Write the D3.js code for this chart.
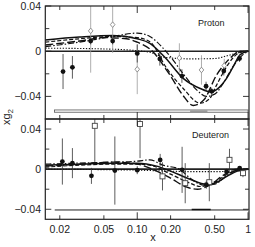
<!DOCTYPE html>
<html><head><meta charset="utf-8">
<script src="https://cdn.jsdelivr.net/npm/d3@7"></script>
<style>body{margin:0;background:#fff}svg{display:block}text{font-family:"Liberation Sans",Arial,sans-serif}</style>
</head><body>
<svg id="c" width="255" height="247"></svg>
<script>
// ---- data ----
const xTicks = [0.02, 0.05, 0.1, 0.2, 0.5, 1];
const xTickLabels = ["0.02", "0.05", "0.10", "0.20", "0.50", "1"];
const yTicksLabeled = [0.04, 0, -0.04];
const yTickLabels = ["0.04", "0", "\u22120.04"];
const yTicksMinor = [0.02, -0.02];

// Proton data [x, xg2, err]
const protonFilled = [[0.0214,-0.018,0.0155],[0.026,-0.0143,0.010],[0.038,0.009,0.003],[0.06,0.009,0.003],
  [0.1,-0.002,0.008],[0.16,-0.0068,0.006],[0.253,-0.022,0.006],[0.418,-0.031,0.004],[0.47,-0.0355,0.003],
  [0.604,-0.0175,0.004],[0.838,-0.0065,0.003]];
const protonOpen = [[0.038,0.018,0.037],[0.06,0.0235,0.025],[0.1,-0.016,0.022],[0.24,-0.006,0.013],
  [0.38,-0.0166,0.013],[0.61,-0.0127,0.006]];
// Proton curves [x, xg2]
const pSolid = [[0.0148,0.0099],[0.03,0.0125],[0.06,0.014],[0.1,0.011],[0.13,0.007],[0.18,-0.006],[0.26,-0.024],[0.37,-0.033],[0.46,-0.036],[0.55,-0.032],[0.64,-0.024],[0.75,-0.012],[0.85,-0.003],[1,0]];
const pLongDash = [[0.0148,0.0055],[0.03,0.009],[0.05,0.012],[0.08,0.011],[0.1,0.008],[0.13,0.002],[0.197,-0.021],[0.258,-0.039],[0.32,-0.048],[0.4,-0.043],[0.52,-0.021],[0.62,-0.011],[0.71,-0.005],[0.85,0],[1,0]];
const pDashDot = [[0.0148,0.004],[0.03,0.008],[0.06,0.013],[0.1,0.016],[0.13,0.013],[0.17,0.003],[0.2,-0.005],[0.26,-0.02],[0.35,-0.035],[0.42,-0.04],[0.5,-0.038],[0.6,-0.028],[0.75,-0.012],[0.9,-0.003],[1,0]];
const pDash = [[0.0148,0.008],[0.03,0.011],[0.06,0.013],[0.1,0.012],[0.13,0.0084],[0.184,-0.015],[0.26,-0.033],[0.37,-0.046],[0.45,-0.042],[0.52,-0.03],[0.62,-0.016],[0.73,-0.006],[0.85,-0.001],[1,0]];
const pDotted = [[0.0148,0.0027],[0.05,0.002],[0.1,0.0005],[0.13,-0.001],[0.17,-0.005],[0.2,-0.006],[0.3,-0.0068],[0.5,-0.0065],[0.65,-0.004],[0.85,-0.001],[1,0]];
const pSystX = [0.0179, 1.0];
const pSystY = [-0.054, -0.052];
const pSystDark = [0.3, 0.43];

// Deuteron data
const deutFilled = [[0.0211,0.0076,0.023],[0.026,0.006,0.015],[0.0386,-0.0067,0.008],[0.0628,-0.0014,0.034],
  [0.1,-0.001,0.004],[0.161,0.0092,0.006],[0.254,-0.0007,0.023],[0.42,-0.0155,0.004],[0.64,-0.0025,0.003],[0.84,0.001,0.002]];
const deutOpen = [[0.0414,0.0432,0.036],[0.106,0.045,0.034],[0.169,-0.0072,0.014],[0.271,-0.014,0.02],
  [0.447,-0.013,0.019],[0.68,0.0093,0.011],[0.9,-0.004,0.004]];
const dSolid = [[0.0148,0.004],[0.03,0.005],[0.06,0.006],[0.1,0.006],[0.15,0.003],[0.2,-0.002],[0.3,-0.01],[0.42,-0.015],[0.5,-0.014],[0.65,-0.007],[0.8,-0.002],[1,0]];
const dLongDash = [[0.0148,0.003],[0.03,0.005],[0.06,0.007],[0.1,0.005],[0.15,-0.002],[0.2,-0.009],[0.28,-0.018],[0.35,-0.02],[0.45,-0.016],[0.6,-0.006],[0.8,0],[1,0]];
const dDashDot = [[0.0148,0.005],[0.03,0.006],[0.06,0.007],[0.1,0.008],[0.13,0.0093],[0.17,0.004],[0.24,0.0],[0.3,-0.009],[0.4,-0.016],[0.5,-0.015],[0.65,-0.006],[0.8,-0.001],[1,0]];
const dDash = [[0.0148,0.002],[0.03,0.004],[0.06,0.005],[0.1,0.005],[0.13,0.004],[0.2,-0.005],[0.3,-0.014],[0.37,-0.0173],[0.5,-0.013],[0.65,-0.005],[0.8,-0.001],[1,0]];
const dDotted = [[0.0148,0.0],[0.05,-0.0005],[0.1,-0.001],[0.2,-0.002],[0.3,-0.0025],[0.5,-0.0025],[0.7,-0.002],[1,0]];
const dSystX = [0.018, 1.0];
const dSystY = -0.0407;
const dSystDark = [0.31, 0.46];

// ---- drawing ----
const svg = d3.select("#c");
const L = 45.3, R = 249;
const x = d3.scaleLog().domain([0.0148, 1.02]).range([L, R]);
const panels = [
  {name:"Proton", y: d3.scaleLinear().domain([-0.06,0.04]).range([119,6]), top:6, bot:119,
   filled: protonFilled, open: protonOpen, openShape:"diamond",
   curves:[[pDotted,"1.3,1.6",1.1],[pDash,"4,2",1.2],[pDashDot,"6,2,1.5,2",1.2],[pLongDash,"8,3",1.4],[pSolid,null,1.5]],
   label:[198,26]},
  {name:"Deuteron", y: d3.scaleLinear().domain([-0.05,0.05]).range([219.3,119]), top:119, bot:219.3,
   filled: deutFilled, open: deutOpen, openShape:"square",
   curves:[[dDotted,"1.3,1.6",1.1],[dDash,"4,2",1.2],[dDashDot,"6,2,1.5,2",1.2],[dLongDash,"8,3",1.4],[dSolid,null,1.5]],
   label:[192,138]}
];

panels.forEach((p,i) => {
  const g = svg.append("g");
  const cid = "clip"+i;
  svg.append("clipPath").attr("id",cid).append("rect")
    .attr("x",L).attr("y",p.top).attr("width",R-L).attr("height",p.bot-p.top);
  const pg = g.append("g").attr("clip-path",`url(#${cid})`);

  // systematic bands
  if (i===0) {
    pg.append("rect").attr("x",x(pSystX[0])).attr("width",x(pSystX[1])-x(pSystX[0]))
      .attr("y",p.y(pSystY[1])).attr("height",p.y(pSystY[0])-p.y(pSystY[1]))
      .attr("fill","#fff").attr("stroke","#555").attr("stroke-width",0.8);
    pg.append("line").attr("x1",x(pSystDark[0])).attr("x2",x(pSystDark[1]))
      .attr("y1",p.y(pSystY[0])-1.1).attr("y2",p.y(pSystY[0])-1.1).attr("stroke","#999").attr("stroke-width",1.6);
  } else {
    pg.append("line").attr("x1",x(dSystX[0])).attr("x2",x(dSystX[1]))
      .attr("y1",p.y(dSystY)).attr("y2",p.y(dSystY)).attr("stroke","#222").attr("stroke-width",1);
    pg.append("line").attr("x1",x(dSystDark[0])).attr("x2",x(dSystDark[1]))
      .attr("y1",p.y(dSystY)-0.5).attr("y2",p.y(dSystY)-0.5).attr("stroke","#111").attr("stroke-width",1.5);
  }

  // zero line
  pg.append("line").attr("x1",L).attr("x2",R).attr("y1",p.y(0)).attr("y2",p.y(0))
    .attr("stroke","#222").attr("stroke-width",1.6);

  // curves
  const line = d3.line().x(d=>x(d[0])).y(d=>p.y(d[1])).curve(d3.curveMonotoneX);
  p.curves.forEach(([data,dash,w]) => {
    pg.append("path").attr("d",line(data)).attr("fill","none").attr("stroke","#111")
      .attr("stroke-width",w).attr("stroke-dasharray",dash);
  });

  // error bars
  pg.selectAll(".eo").data(p.open).join("line")
    .attr("x1",d=>x(d[0])).attr("x2",d=>x(d[0]))
    .attr("y1",d=>p.y(d[1]+d[2])).attr("y2",d=>p.y(d[1]-d[2]))
    .attr("stroke", i===0 ? "#999" : "#333").attr("stroke-width",0.8);
  pg.selectAll(".ef").data(p.filled).join("line")
    .attr("x1",d=>x(d[0])).attr("x2",d=>x(d[0]))
    .attr("y1",d=>p.y(d[1]+d[2])).attr("y2",d=>p.y(d[1]-d[2]))
    .attr("stroke","#333").attr("stroke-width",0.8);

  // open markers
  if (p.openShape==="diamond") {
    pg.selectAll(".om").data(p.open).join("path")
      .attr("d",d=>{const cx=x(d[0]),cy=p.y(d[1]);return `M${cx},${cy-2.8}L${cx+2.3},${cy}L${cx},${cy+2.8}L${cx-2.3},${cy}Z`;})
      .attr("fill","#fff").attr("stroke","#888").attr("stroke-width",0.9);
  } else {
    pg.selectAll(".om").data(p.open).join("rect")
      .attr("x",d=>x(d[0])-2.5).attr("y",d=>p.y(d[1])-2.5).attr("width",5).attr("height",5)
      .attr("fill","#fff").attr("stroke","#444").attr("stroke-width",0.9);
  }
  // filled markers
  pg.selectAll(".fm").data(p.filled).join("circle")
    .attr("cx",d=>x(d[0])).attr("cy",d=>p.y(d[1])).attr("r",2.4).attr("fill","#111");

  // y ticks inside, both sides
  const tick = (v,len) => {
    [[L,1],[R,-1]].forEach(([xx,s]) => {
      g.append("line").attr("x1",xx).attr("x2",xx+s*len).attr("y1",p.y(v)).attr("y2",p.y(v))
        .attr("stroke","#222").attr("stroke-width",0.9);
    });
  };
  yTicksLabeled.forEach(v=>tick(v,6));
  yTicksMinor.forEach(v=>tick(v,4));
  yTicksLabeled.forEach((v,k) => {
    g.append("text").attr("x",41).attr("y",p.y(v)).attr("dy","0.36em").attr("text-anchor","end")
      .attr("font-size",10.5).attr("fill","#222").text(yTickLabels[k]);
  });

  // x ticks inside at top and bottom
  xTicks.forEach(v => {
    const len = (v===0.1||v===1) ? 7 : 4;
    g.append("line").attr("x1",x(v)).attr("x2",x(v)).attr("y1",p.bot).attr("y2",p.bot-len)
      .attr("stroke","#222").attr("stroke-width",0.9);
    g.append("line").attr("x1",x(v)).attr("x2",x(v)).attr("y1",p.top).attr("y2",p.top+len)
      .attr("stroke","#222").attr("stroke-width",0.9);
  });

  // frame
  g.append("rect").attr("x",L).attr("y",p.top).attr("width",R-L).attr("height",p.bot-p.top)
    .attr("fill","none").attr("stroke","#222").attr("stroke-width",1.2);

  g.append("text").attr("x",p.label[0]).attr("y",p.label[1]).attr("font-size",9).attr("fill","#222").text(p.name);
});

// x tick labels
xTicks.forEach((v,k) => {
  svg.append("text").attr("x",x(v)).attr("y",233).attr("text-anchor","middle")
    .attr("font-size",10.5).attr("fill","#222").text(xTickLabels[k]);
});
svg.append("text").attr("x",153).attr("y",241).attr("text-anchor","middle").attr("font-size",11).attr("fill","#222").text("x");

// y label
const yl = svg.append("text").attr("transform","translate(10,117) rotate(-90)").attr("text-anchor","middle")
  .attr("font-size",11).attr("fill","#222");
yl.append("tspan").text("xg");
yl.append("tspan").attr("font-size",8).attr("dy",2.5).text("2");
</script>
</body></html>
